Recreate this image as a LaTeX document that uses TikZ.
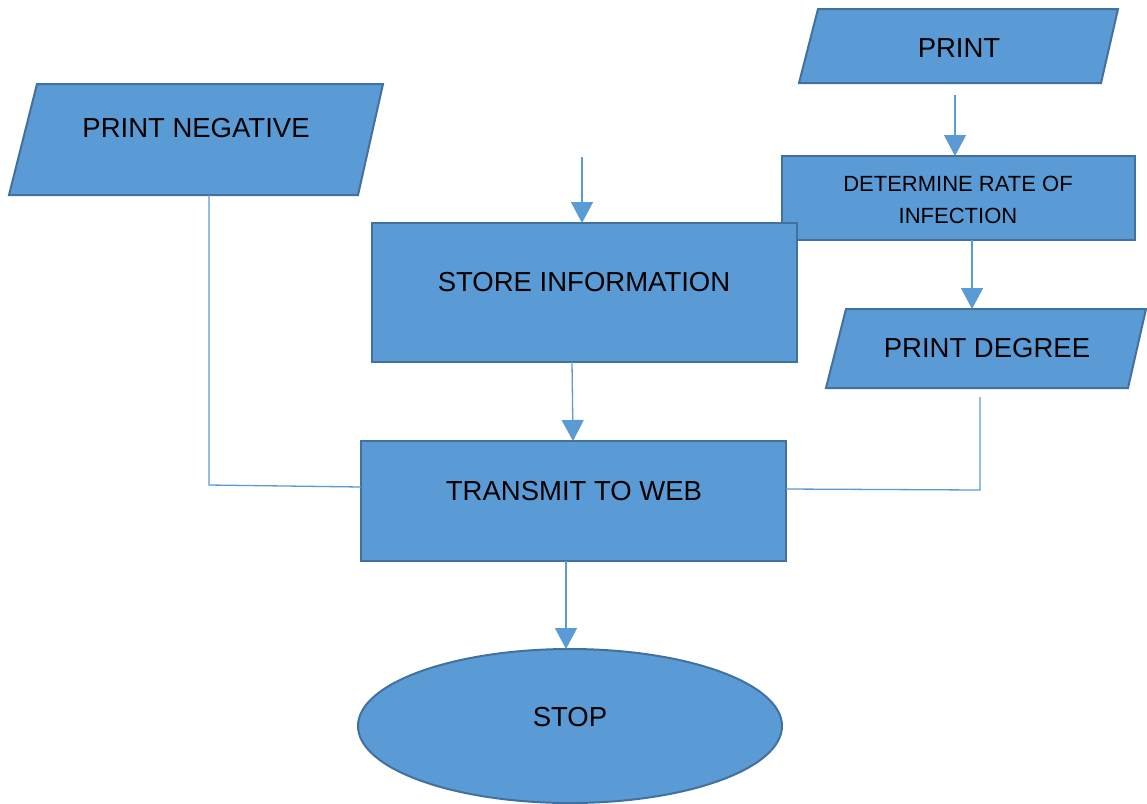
\documentclass[tikz,border=0pt]{standalone}
\usepackage{fontspec}
\setmainfont{Liberation Sans}
\usetikzlibrary{arrows.meta,shapes.geometric}
\definecolor{boxfill}{HTML}{5B9BD5}
\definecolor{boxline}{HTML}{41719C}
\definecolor{connline}{HTML}{5B9BD5}
\tikzset{
  shapebox/.style={fill=boxfill, draw=boxline, line width=2pt, inner sep=0pt, outer sep=0pt},
  conn/.style={draw=connline, line width=1.3pt},
  arr/.style={conn, -{Triangle[length=21pt,width=22pt]}},
  lbl/.style={font=\fontsize{27.5}{32}\selectfont, anchor=base, inner sep=0pt, text=black},
  small/.style={font=\fontsize{22}{32}\selectfont, anchor=base, inner sep=0pt, text=black},
}
\begin{document}
\begin{tikzpicture}[x=1pt,y=-1pt]
\useasboundingbox (0,0) rectangle (1147,803);
\fill[white] (0,0) rectangle (1147,803);

% parallelograms
\draw[shapebox] (818,9) -- (1118,9) -- (1101,83) -- (799,83) -- cycle;
\draw[shapebox] (37,84) -- (383,84) -- (358,195) -- (9,195) -- cycle;
\draw[shapebox] (846,309) -- (1146,309) -- (1128,388) -- (826,388) -- cycle;

% rectangles and ellipse
\node[shapebox, minimum width=353pt, minimum height=84pt] (det) at (958.5,198) {};
\node[shapebox, minimum width=425pt, minimum height=139pt] (store) at (584.5,292.5) {};
\node[shapebox, minimum width=425pt, minimum height=120pt] (web) at (573.5,501) {};
\node[shapebox, ellipse, minimum width=424pt, minimum height=154pt] (stop) at (570,726) {};

% labels
\node[lbl] (tprint) at (959,57) {PRINT};
\node[lbl] (tneg) at (196,137) {PRINT NEGATIVE};
\node[small] (tdet1) at (958,191) {DETERMINE RATE OF};
\node[small] (tdet2) at (958,223) {INFECTION};
\node[lbl] (tstore) at (584,291) {STORE INFORMATION};
\node[lbl] (tdeg) at (987,357) {PRINT DEGREE};
\node[lbl] (tweb) at (574,500) {TRANSMIT TO WEB};
\node[lbl] (tstop) at (570,726) {STOP};

% connector end points
\coordinate (c1) at (955,95);
\coordinate (c2) at (582,157);
\coordinate (degtop) at (972,309);
\coordinate (negbot) at (209,195);
\coordinate (negcorner) at (209,485);
\coordinate (degbot) at (980,397);
\coordinate (degcorner) at (980,490);

% connectors
\draw[arr] (c1) -- (c1 |- det.north);
\draw[arr] (c2) -- (c2 |- store.north);
\draw[arr] (degtop |- det.south) -- (degtop);
\draw[arr] ([xshift=-12.5pt]store.south) -- ([xshift=-0.5pt]web.north);
\draw[conn] (negbot) -- (negcorner) -- ([yshift=14pt]web.west);
\draw[conn] (degbot) -- (degcorner) -- ([yshift=12pt]web.east);
\draw[arr] ([xshift=-7.5pt]web.south) -- ([xshift=-4pt]stop.north);
\end{tikzpicture}
\end{document}
